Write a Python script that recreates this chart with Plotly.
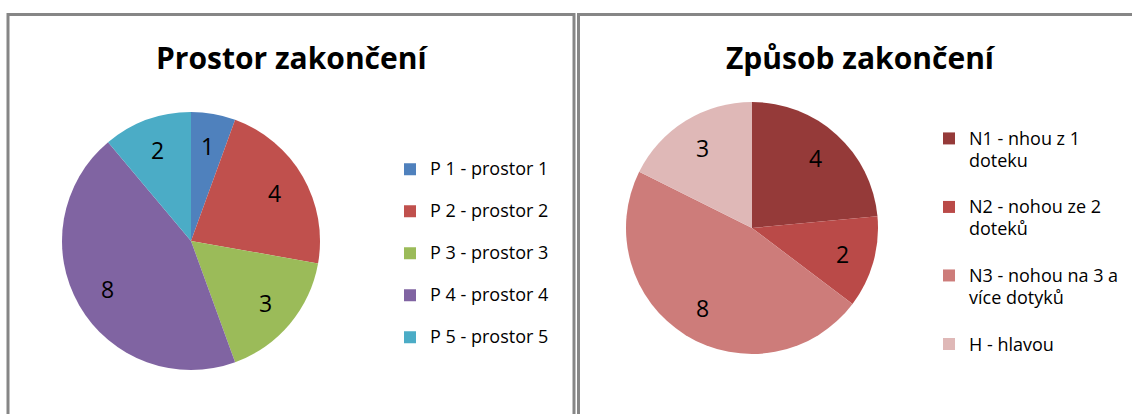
import math
import plotly.graph_objects as go

W, H = 1132, 414

# Data
labels1 = ["P 1 - prostor 1", "P 2 - prostor 2", "P 3 - prostor 3", "P 4 - prostor 4", "P 5 - prostor 5"]
values1 = [1, 4, 3, 8, 2]
colors1 = ["#4F81BD", "#C0504D", "#9BBB59", "#8064A2", "#4BACC6"]
title1 = "Prostor zakončení"

labels2 = ["N1 - nhou z 1<br>doteku", "N2 - nohou ze 2<br>doteků", "N3 - nohou na 3 a<br>více dotyků", "H - hlavou"]
values2 = [4, 2, 8, 3]
colors2 = ["#953A39", "#BA4A48", "#CD7C7A", "#DFB8B7"]
title2 = "Způsob zakončení"

FONT = "Open Sans"
LEG_PX = 18
LABEL_FRAC = 0.75  # radial position of the value labels (fraction of radius)

# pie placement in pixels (centre x, centre y, radius)
PIE1 = (191, 241, 129)
PIE2 = (752, 228, 126)


def px_x(v):
    return v / W


def px_y(v):
    return 1 - v / H


def span(t):
    return "<span style='font-size:%dpx'>%s</span>" % (LEG_PX, t)


def add_pie(fig, labels, values, colors, geom, legend_id):
    cx, cy, r = geom
    fig.add_trace(go.Pie(
        labels=labels, values=values, sort=False, direction="clockwise", rotation=0,
        marker=dict(colors=colors, line=dict(width=0)),
        textinfo="none",
        domain=dict(x=[px_x(cx - r), px_x(cx + r)], y=[px_y(cy + r), px_y(cy - r)]),
        legend=legend_id, hoverinfo="value",
    ))
    # value labels placed on each slice bisector, derived from the values
    total = sum(values)
    cum = 0
    for v in values:
        mid = (cum + v / 2) / total * 2 * math.pi
        cum += v
        x = cx + LABEL_FRAC * r * math.sin(mid)
        y = cy - LABEL_FRAC * r * math.cos(mid)
        fig.add_annotation(text=str(v), x=px_x(x), y=px_y(y), xref="paper", yref="paper",
                           showarrow=False, xanchor="center", yanchor="middle",
                           font=dict(family=FONT, size=23, color="#000000"))


fig = go.Figure()

# legend labels with extra blank lines so the item spacing matches
leg1 = [span(l) + "<br> " for l in labels1]
leg2 = []
for l in labels2:
    parts = l.split("<br>")
    leg2.append("<br>".join(span(p) for p in parts) + "<br> " * (3 - len(parts)))

add_pie(fig, leg1, values1, colors1, PIE1, "legend")
add_pie(fig, leg2, values2, colors2, PIE2, "legend2")

# Chart boxes
fig.add_shape(type="rect", xref="paper", yref="paper",
              x0=px_x(8), x1=px_x(574), y0=px_y(430), y1=px_y(14.5),
              line=dict(color="#868686", width=3), fillcolor="rgba(0,0,0,0)", layer="below")
fig.add_shape(type="rect", xref="paper", yref="paper",
              x0=px_x(578.5), x1=px_x(1150), y0=px_y(430), y1=px_y(14.5),
              line=dict(color="#868686", width=3), fillcolor="rgba(0,0,0,0)", layer="below")

fig.add_annotation(text="<b>" + title1 + "</b>", x=px_x(292), y=px_y(58), xref="paper", yref="paper",
                   showarrow=False, xanchor="center", yanchor="middle",
                   font=dict(family=FONT, size=30, color="#000000"))
fig.add_annotation(text="<b>" + title2 + "</b>", x=px_x(861), y=px_y(58), xref="paper", yref="paper",
                   showarrow=False, xanchor="center", yanchor="middle",
                   font=dict(family=FONT, size=30, color="#000000"))

fig.update_layout(
    width=W, height=H,
    margin=dict(l=0, r=0, t=0, b=0),
    paper_bgcolor="#FFFFFF", plot_bgcolor="#FFFFFF",
    showlegend=True,
    legend=dict(x=px_x(390), y=px_y(153), xanchor="left", yanchor="top",
                font=dict(family=FONT, size=15, color="#000000"),
                valign="top", bgcolor="rgba(0,0,0,0)", itemclick=False),
    legend2=dict(x=px_x(929), y=px_y(121), xanchor="left", yanchor="top",
                 font=dict(family=FONT, size=16.8, color="#000000"),
                 valign="top", bgcolor="rgba(0,0,0,0)", itemclick=False),
)

fig.write_html("out.html", config={"displayModeBar": False},
               post_script="document.body.style.margin='0';")
